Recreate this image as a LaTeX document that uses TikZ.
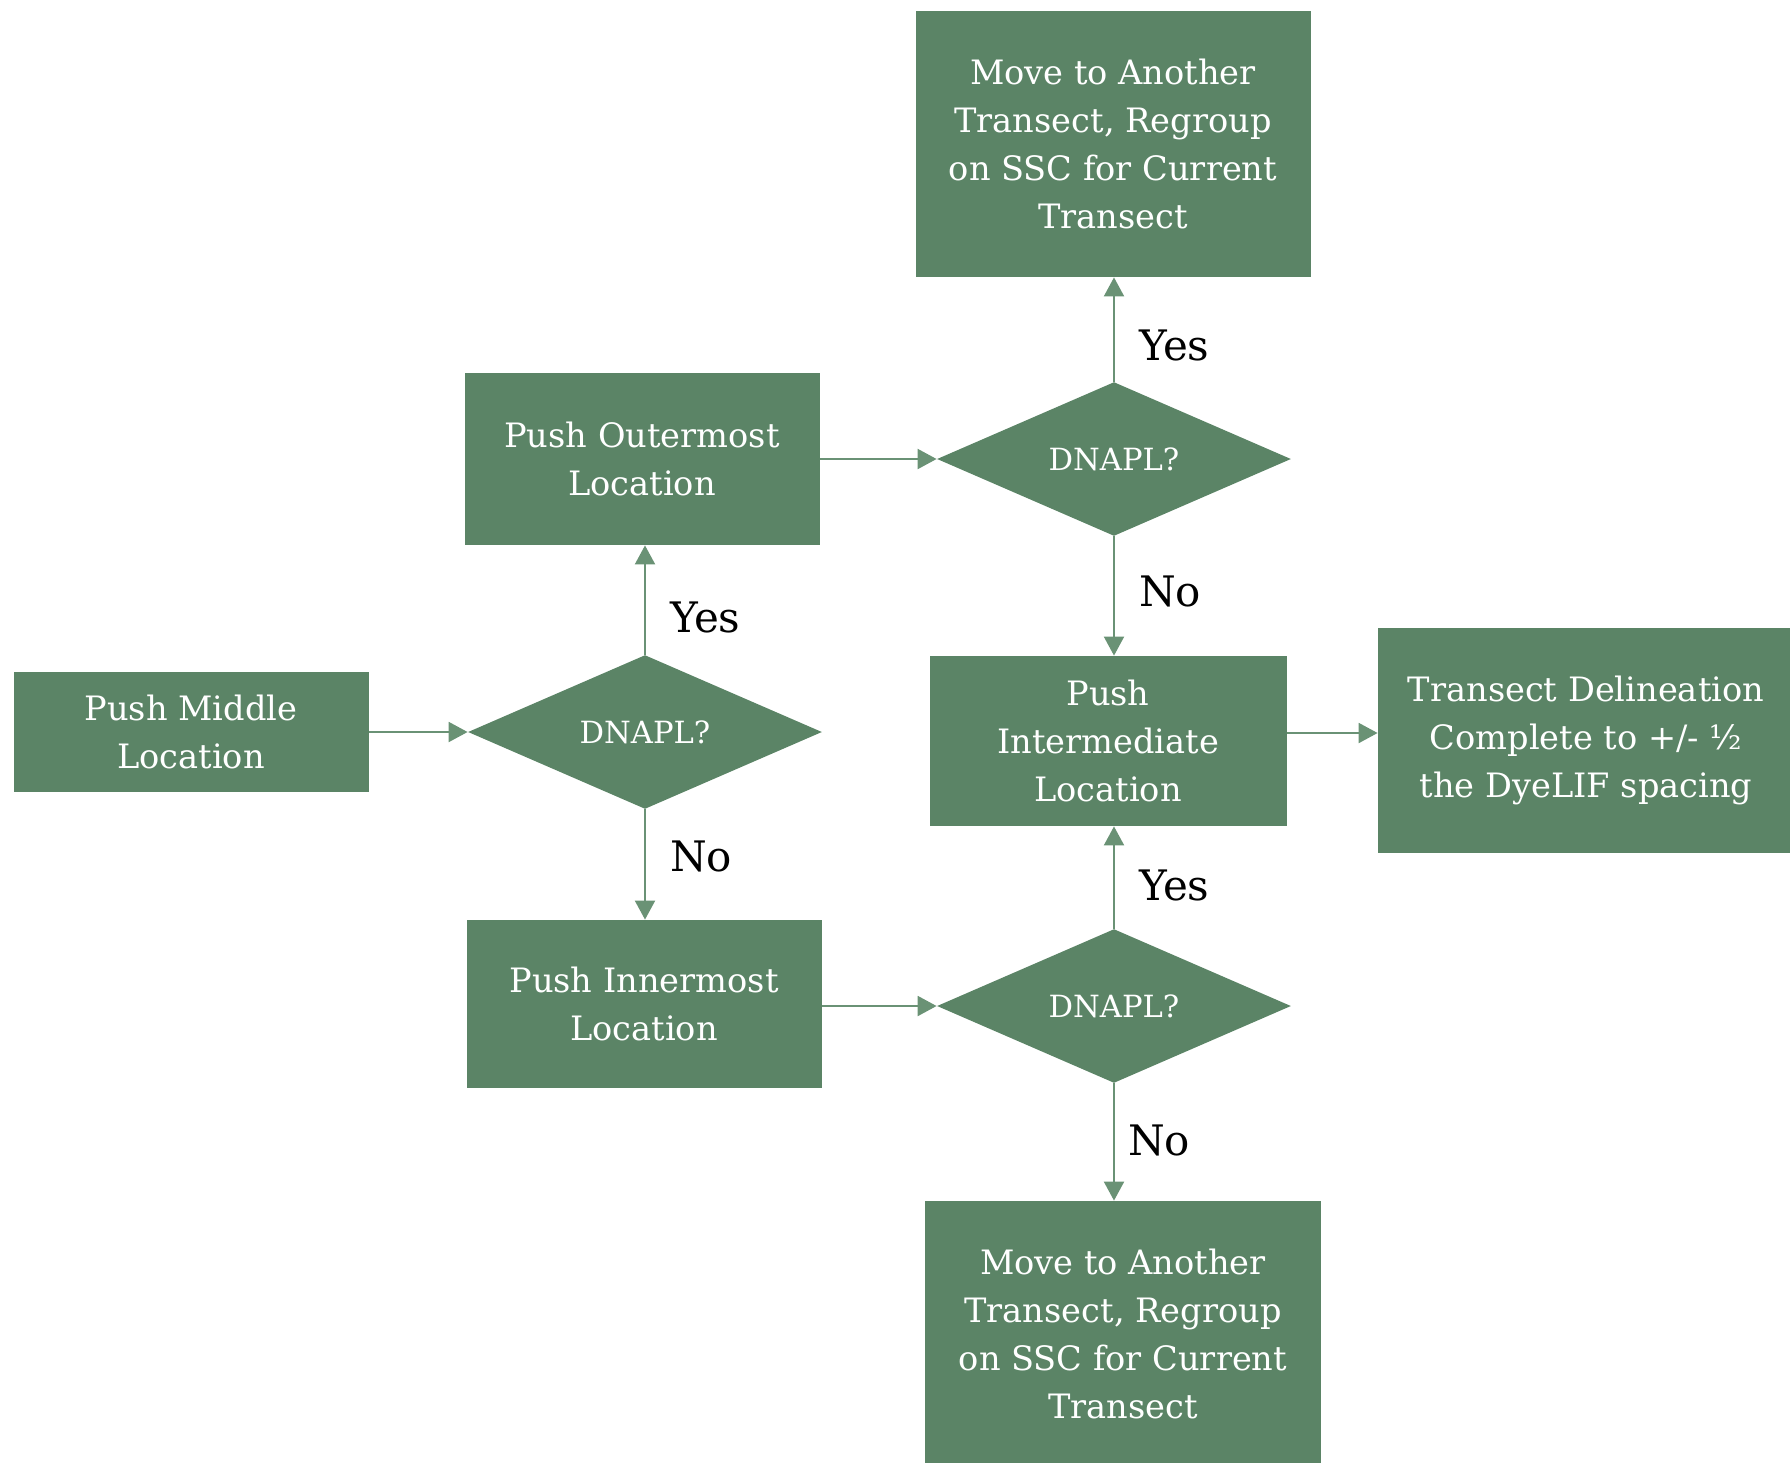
\documentclass[tikz,border=0pt]{standalone}
\usepackage{fontspec}
\setmainfont{DejaVu Serif}
\usetikzlibrary{arrows.meta,shapes.geometric}
\definecolor{boxgreen}{HTML}{5B8466}
\definecolor{linegreen}{HTML}{6A9275}

\begin{document}
\begin{tikzpicture}[x=0.5pt,y=-0.5pt]

% Define styles for the chart
\tikzstyle{stepbox} = [rectangle, fill=boxgreen, text=white, align=center, inner sep=0pt, font=\fontsize{16.8}{24}\selectfont]
\tikzstyle{check} = [diamond, fill=boxgreen, text=white, inner sep=0pt, font=\fontsize{15.3}{18}\selectfont, minimum width=177pt, minimum height=74pt]
\tikzstyle{link} = [draw=linegreen, line width=1pt, -{Triangle[length=9.5pt,width=10pt]}]
\tikzstyle{answer} = [font=\fontsize{21}{24}\selectfont, text=black, anchor=west, inner sep=0pt]

\useasboundingbox (0,0) rectangle (1790,1463);

% Left column
\node[stepbox, minimum width=177.5pt, minimum height=60pt] (middle) at (191,732) {Push Middle\\Location};
\node[check] (d1) at (645,732) {DNAPL?};
\node[stepbox, minimum width=177.5pt, minimum height=86pt] (outer) at (642,459) {Push Outermost\\Location};
\node[stepbox, minimum width=177.5pt, minimum height=84pt] (inner) at (644,1004) {Push Innermost\\Location};

% Right column
\node[check] (dtop) at (1114,459) {DNAPL?};
\node[stepbox, minimum width=197.5pt, minimum height=133pt] (top) at (1113,144) {Move to Another\\Transect, Regroup\\on SSC for Current\\Transect};
\node[stepbox, minimum width=178.5pt, minimum height=85pt] (inter) at (1108,741) {Push\\Intermediate\\Location};
\node[check] (dbot) at (1114,1006) {DNAPL?};
\node[stepbox, minimum width=198pt, minimum height=133pt] (bottom) at (1123,1334) {Move to Another\\Transect, Regroup\\on SSC for Current\\Transect};
\node[stepbox, minimum width=208pt, minimum height=112.5pt] (done) at (1586,740) {Transect Delineation\\Complete to +/- ½\\the DyeLIF spacing};

% Connectors
\draw[link] (middle.east) -- (d1.west);
\draw[link] (d1.north) -- node[answer, pos=0.34, xshift=12pt] (yes1) {Yes} (d1.north |- outer.south);
\draw[link] (d1.south) -- node[answer, pos=0.43, xshift=12pt] (no1) {No} (d1.south |- inner.north);
\draw[link] (outer.east) -- (dtop.west);
\draw[link] (inner.east |- dbot.west) -- (dbot.west);
\draw[link] (dtop.north) -- node[answer, pos=0.35, xshift=12pt] (yes2) {Yes} (dtop.north |- top.south);
\draw[link] (dtop.south) -- node[answer, pos=0.46, xshift=12pt] (no2) {No} (dtop.south |- inter.north);
\draw[link] (dbot.north) -- node[answer, pos=0.42, xshift=12pt] (yes3) {Yes} (dbot.north |- inter.south);
\draw[link] (dbot.south) -- node[answer, pos=0.49, xshift=6.5pt] (no3) {No} (dbot.south |- bottom.north);
\draw[link] ([yshift=4pt]inter.east) -- ([yshift=4pt]inter.east -| done.west);

\end{tikzpicture}
\end{document}
